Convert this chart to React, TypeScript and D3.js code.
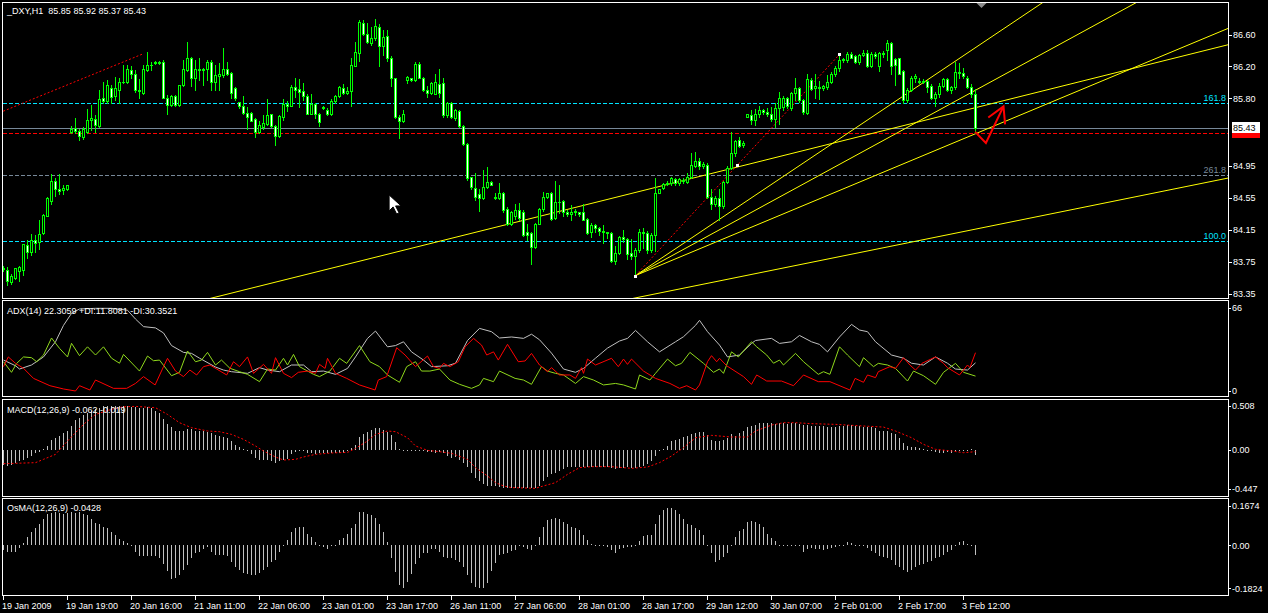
import * as d3 from 'd3';
import React from 'react';

const W = 1268;
const H = 613;
const FONT = "'Liberation Sans', Arial, sans-serif";

// _DXY H1 candles, oldest first
const opens = [
  83.66, 83.65, 83.50, 83.55, 83.64, 83.65, 83.96, 83.88, 84.02, 84.00,
  84.11, 84.32, 84.52, 84.76, 84.67, 84.65, 84.66, 85.38, 85.43, 85.39,
  85.32, 85.38, 85.53, 85.54, 85.45, 85.80, 85.77, 85.93, 85.83, 85.91,
  86.00, 86.01, 86.16, 86.11, 85.91, 85.87, 86.16, 86.22, 86.24, 86.26,
  86.25, 85.81, 85.72, 85.83, 85.72, 85.97, 86.16, 86.31, 86.06, 86.17,
  86.16, 86.17, 86.26, 86.01, 86.08, 86.09, 86.17, 86.12, 85.93, 85.75,
  85.70, 85.62, 85.62, 85.54, 85.38, 85.44, 85.48, 85.60, 85.45, 85.33,
  85.57, 85.73, 85.71, 85.94, 85.92, 85.89, 85.83, 85.61, 85.73, 85.61,
  85.68, 85.66, 85.60, 85.77, 85.83, 85.93, 85.87, 85.89, 86.21, 86.37,
  86.75, 86.61, 86.49, 86.55, 86.70, 86.46, 86.58, 86.31, 86.05, 85.57,
  85.51, 86.03, 86.05, 86.03, 86.23, 86.06, 85.90, 85.87, 85.86, 85.98,
  85.99, 85.59, 85.74, 85.56, 85.64, 85.45, 85.23, 84.81, 84.68, 84.60,
  84.55, 84.69, 84.75, 84.55, 84.55, 84.62, 84.41, 84.23, 84.33, 84.40,
  84.38, 84.13, 84.11, 83.94, 84.23, 84.41, 84.56, 84.62, 84.30, 84.50,
  84.51, 84.37, 84.35, 84.39, 84.37, 84.37, 84.29, 84.12, 84.21, 84.17,
  84.14, 84.12, 84.11, 83.76, 83.86, 84.06, 84.04, 83.86, 83.82, 83.90,
  84.13, 84.11, 83.90, 84.09, 84.62, 84.68, 84.73, 84.74, 84.79, 84.74,
  84.78, 84.75, 84.82, 84.95, 85.01, 84.95, 84.97, 84.57, 84.48, 84.55,
  84.45, 84.75, 84.93, 85.11, 85.28, 85.21, 85.57, 85.59, 85.53, 85.60,
  85.65, 85.63, 85.61, 85.54, 85.68, 85.69, 85.81, 85.68, 85.87, 85.93,
  85.78, 85.62, 86.03, 85.93, 85.94, 85.93, 85.94, 86.00, 86.11, 86.18,
  86.28, 86.28, 86.35, 86.33, 86.25, 86.34, 86.37, 86.21, 86.35, 86.21,
  86.35, 86.40, 86.49, 86.29, 86.30, 86.14, 85.78, 85.91, 86.06, 86.02,
  86.02, 86.02, 85.96, 85.80, 85.86, 85.96, 86.04, 85.90, 85.94, 86.13,
  86.12, 86.06, 85.94, 85.85,
];
const highs = [
  83.70, 83.69, 83.60, 83.68, 83.70, 83.98, 84.02, 84.10, 84.09, 84.27,
  84.35, 84.56, 84.85, 84.80, 84.85, 84.71, 84.72, 85.45, 85.56, 85.42,
  85.44, 85.67, 85.72, 85.59, 85.90, 86.01, 86.03, 85.97, 86.07, 86.06,
  86.22, 86.22, 86.20, 86.15, 86.04, 86.22, 86.38, 86.26, 86.27, 86.27,
  86.28, 85.84, 85.84, 85.84, 85.97, 86.28, 86.50, 86.32, 86.28, 86.30,
  86.18, 86.28, 86.28, 86.22, 86.24, 86.43, 86.26, 86.13, 85.94, 85.76,
  85.83, 85.69, 85.63, 85.55, 85.51, 85.59, 85.79, 85.61, 85.46, 85.59,
  85.79, 85.77, 85.97, 86.06, 86.04, 85.99, 85.86, 85.86, 85.74, 85.62,
  85.70, 85.68, 85.79, 85.84, 85.95, 85.98, 85.94, 86.30, 86.50, 86.78,
  86.78, 86.74, 86.70, 86.79, 86.73, 86.66, 86.66, 86.33, 86.06, 85.59,
  85.65, 86.08, 86.06, 86.26, 86.25, 86.07, 85.95, 86.01, 86.11, 86.17,
  86.06, 85.75, 85.75, 85.67, 85.65, 85.46, 85.24, 84.82, 84.87, 84.67,
  84.90, 84.94, 84.76, 84.61, 84.74, 84.63, 84.44, 84.39, 84.48, 84.49,
  84.40, 84.23, 84.12, 84.24, 84.42, 84.63, 84.62, 84.63, 84.76, 84.71,
  84.53, 84.40, 84.46, 84.41, 84.37, 84.48, 84.30, 84.24, 84.22, 84.19,
  84.21, 84.13, 84.12, 83.95, 84.07, 84.15, 84.05, 84.04, 83.92, 84.16,
  84.17, 84.14, 84.11, 84.80, 84.67, 84.74, 84.76, 84.82, 84.80, 84.80,
  84.80, 84.86, 85.11, 85.13, 85.05, 85.00, 84.99, 84.66, 84.58, 84.66,
  84.76, 84.95, 85.38, 85.28, 85.32, 85.26, 85.60, 85.65, 85.67, 85.70,
  85.67, 85.68, 85.69, 85.74, 85.88, 85.83, 85.82, 85.88, 86.05, 85.94,
  85.79, 86.11, 86.06, 86.11, 86.02, 85.97, 86.09, 86.13, 86.20, 86.36,
  86.31, 86.38, 86.38, 86.34, 86.36, 86.40, 86.40, 86.38, 86.38, 86.38,
  86.39, 86.53, 86.51, 86.30, 86.31, 86.15, 85.93, 86.08, 86.10, 86.05,
  86.04, 86.03, 85.98, 85.88, 85.99, 86.06, 86.05, 85.96, 86.25, 86.24,
  86.18, 86.08, 85.98, 85.92,
];
const lows = [
  83.64, 83.46, 83.47, 83.54, 83.51, 83.59, 83.80, 83.84, 83.88, 83.91,
  84.10, 84.32, 84.48, 84.58, 84.60, 84.60, 84.65, 85.37, 85.37, 85.28,
  85.29, 85.37, 85.40, 85.38, 85.44, 85.74, 85.74, 85.74, 85.78, 85.74,
  85.99, 85.99, 86.05, 85.88, 85.81, 85.86, 86.14, 86.16, 86.23, 86.23,
  85.80, 85.61, 85.70, 85.70, 85.70, 85.96, 86.14, 85.95, 85.90, 86.03,
  85.97, 86.03, 85.90, 85.90, 85.90, 86.07, 86.09, 85.80, 85.78, 85.68,
  85.61, 85.42, 85.51, 85.31, 85.36, 85.42, 85.47, 85.44, 85.21, 85.32,
  85.53, 85.64, 85.70, 85.82, 85.69, 85.78, 85.60, 85.60, 85.55, 85.45,
  85.67, 85.59, 85.59, 85.74, 85.82, 85.86, 85.86, 85.71, 86.20, 86.27,
  86.60, 86.49, 86.47, 86.53, 86.20, 86.34, 86.27, 85.95, 85.56, 85.30,
  85.50, 85.99, 86.02, 86.02, 86.05, 85.89, 85.82, 85.85, 85.85, 85.82,
  85.57, 85.57, 85.55, 85.53, 85.44, 85.21, 84.78, 84.67, 84.53, 84.39,
  84.54, 84.68, 84.71, 84.54, 84.54, 84.38, 84.21, 84.21, 84.29, 84.27,
  84.07, 84.02, 83.73, 83.92, 84.22, 84.39, 84.55, 84.28, 84.29, 84.36,
  84.32, 84.33, 84.27, 84.34, 84.32, 84.28, 84.10, 84.06, 84.13, 84.09,
  83.99, 84.05, 83.75, 83.73, 83.85, 84.00, 83.79, 83.79, 83.58, 83.88,
  83.93, 83.86, 83.87, 83.89, 84.61, 84.67, 84.71, 84.72, 84.72, 84.72,
  84.74, 84.74, 84.80, 84.94, 84.92, 84.93, 84.55, 84.41, 84.45, 84.27,
  84.43, 84.74, 84.92, 85.08, 85.19, 85.19, 85.57, 85.48, 85.47, 85.57,
  85.61, 85.58, 85.52, 85.44, 85.48, 85.66, 85.68, 85.66, 85.78, 85.76,
  85.61, 85.61, 85.90, 85.80, 85.79, 85.91, 85.92, 85.99, 86.08, 86.14,
  86.26, 86.26, 86.30, 86.24, 86.23, 86.33, 86.19, 86.19, 86.31, 86.14,
  86.32, 86.28, 86.10, 85.97, 86.10, 85.74, 85.75, 85.89, 86.01, 85.99,
  85.99, 85.88, 85.79, 85.70, 85.82, 85.94, 85.89, 85.87, 85.92, 86.05,
  86.05, 85.93, 85.82, 85.37,
];
const closes = [
  83.68, 83.51, 83.58, 83.67, 83.69, 83.97, 83.87, 84.03, 83.99, 84.10,
  84.34, 84.55, 84.76, 84.66, 84.64, 84.68, 84.71, 85.42, 85.39, 85.33,
  85.41, 85.53, 85.55, 85.47, 85.79, 85.77, 85.97, 85.82, 85.93, 86.00,
  86.01, 86.17, 86.10, 85.90, 85.89, 86.17, 86.22, 86.22, 86.26, 86.24,
  85.81, 85.72, 85.83, 85.72, 85.97, 86.17, 86.31, 86.06, 86.17, 86.16,
  86.17, 86.26, 86.01, 86.09, 86.11, 86.17, 86.10, 85.87, 85.81, 85.71,
  85.62, 85.57, 85.52, 85.38, 85.46, 85.49, 85.59, 85.45, 85.33, 85.58,
  85.73, 85.71, 85.94, 85.90, 85.88, 85.83, 85.61, 85.73, 85.61, 85.50,
  85.69, 85.60, 85.77, 85.83, 85.94, 85.87, 85.89, 86.22, 86.38, 86.76,
  86.61, 86.50, 86.56, 86.71, 86.46, 86.57, 86.31, 86.06, 85.57, 85.51,
  85.60, 86.07, 86.03, 86.23, 86.06, 85.90, 85.87, 85.99, 86.00, 85.87,
  85.59, 85.74, 85.57, 85.65, 85.45, 85.23, 84.80, 84.69, 84.57, 84.55,
  84.69, 84.75, 84.72, 84.56, 84.61, 84.40, 84.23, 84.38, 84.40, 84.30,
  84.09, 84.09, 83.94, 84.23, 84.41, 84.57, 84.61, 84.29, 84.50, 84.50,
  84.37, 84.35, 84.38, 84.37, 84.35, 84.28, 84.11, 84.21, 84.17, 84.14,
  84.12, 84.11, 83.76, 83.86, 84.06, 84.04, 83.85, 83.83, 83.90, 84.13,
  84.11, 83.90, 84.09, 84.62, 84.67, 84.73, 84.74, 84.80, 84.74, 84.79,
  84.76, 84.82, 84.96, 85.01, 84.95, 84.98, 84.57, 84.48, 84.55, 84.45,
  84.75, 84.93, 85.11, 85.27, 85.20, 85.24, 85.60, 85.53, 85.60, 85.65,
  85.63, 85.61, 85.54, 85.68, 85.81, 85.81, 85.70, 85.87, 85.93, 85.78,
  85.63, 86.04, 85.92, 85.95, 85.93, 85.95, 86.00, 86.11, 86.18, 86.28,
  86.29, 86.36, 86.31, 86.25, 86.34, 86.37, 86.21, 86.36, 86.33, 86.37,
  86.37, 86.49, 86.20, 86.22, 86.11, 85.78, 85.91, 86.06, 86.08, 86.01,
  86.01, 85.94, 85.80, 85.86, 85.96, 86.04, 85.90, 85.94, 86.13, 86.12,
  86.08, 85.94, 85.85, 85.43,
];

// MACD(12,26,9) histogram, one value per bar
const macdMain = [
  -0.17, -0.18, -0.17, -0.15, -0.13, -0.11, -0.09, -0.07, -0.04, -0.02,
  0.01, 0.05, 0.11, 0.14, 0.16, 0.19, 0.22, 0.28, 0.34, 0.37,
  0.40, 0.43, 0.45, 0.47, 0.48, 0.50, 0.50, 0.50, 0.50, 0.50,
  0.50, 0.50, 0.49, 0.49, 0.48, 0.48, 0.49, 0.48, 0.45, 0.42,
  0.36, 0.30, 0.26, 0.22, 0.22, 0.22, 0.24, 0.24, 0.22, 0.22,
  0.22, 0.21, 0.20, 0.17, 0.16, 0.15, 0.14, 0.10, 0.06, 0.03,
  0.01, -0.01, -0.05, -0.09, -0.11, -0.11, -0.11, -0.13, -0.15, -0.13,
  -0.11, -0.10, -0.05, -0.02, 0.00, -0.01, -0.03, -0.04, -0.05, -0.04,
  -0.04, -0.04, -0.03, -0.04, -0.03, -0.03, -0.01, 0.02, 0.06, 0.15,
  0.18, 0.21, 0.23, 0.25, 0.25, 0.23, 0.21, 0.17, 0.09, 0.01,
  0.00, 0.00, 0.00, 0.00, 0.00, 0.00, -0.02, -0.02, -0.03, -0.02,
  -0.04, -0.07, -0.09, -0.08, -0.11, -0.15, -0.20, -0.26, -0.32, -0.36,
  -0.39, -0.41, -0.41, -0.41, -0.42, -0.43, -0.44, -0.44, -0.44, -0.44,
  -0.43, -0.44, -0.44, -0.43, -0.41, -0.36, -0.31, -0.28, -0.26, -0.24,
  -0.22, -0.20, -0.19, -0.19, -0.19, -0.20, -0.20, -0.20, -0.20, -0.20,
  -0.20, -0.20, -0.21, -0.22, -0.21, -0.21, -0.20, -0.21, -0.21, -0.20,
  -0.18, -0.16, -0.13, -0.07, 0.00, 0.01, 0.05, 0.10, 0.12, 0.13,
  0.15, 0.16, 0.18, 0.20, 0.21, 0.21, 0.17, 0.12, 0.10, 0.10,
  0.12, 0.14, 0.18, 0.16, 0.20, 0.22, 0.26, 0.27, 0.29, 0.31,
  0.31, 0.31, 0.31, 0.30, 0.31, 0.31, 0.30, 0.31, 0.31, 0.30,
  0.29, 0.29, 0.28, 0.28, 0.28, 0.28, 0.26, 0.26, 0.26, 0.28,
  0.28, 0.29, 0.29, 0.28, 0.28, 0.26, 0.26, 0.26, 0.25, 0.22,
  0.22, 0.22, 0.20, 0.18, 0.14, 0.08, 0.05, 0.03, 0.03, 0.02,
  0.01, 0.00, 0.00, -0.02, -0.03, -0.03, -0.02, -0.03, -0.01, -0.01,
  -0.01, 0.00, 0.01, -0.06,
];

// MACD signal line: [bar, value] vertices
const macdSignal = [
  [0, -0.157], [8, -0.145], [10, -0.107], [13, -0.05], [16, 0.103], [20, 0.294],
  [23, 0.408], [27, 0.466], [30, 0.496], [33, 0.50], [38, 0.485], [41, 0.408],
  [44, 0.313], [47, 0.256], [51, 0.218], [54, 0.21], [57, 0.179], [60, 0.122],
  [63, 0.046], [65, -0.011], [68, -0.08], [70, -0.115], [73, -0.107], [75, -0.08],
  [78, -0.05], [82, -0.034], [86, -0.027], [88, 0.019], [91, 0.103], [93, 0.179],
  [96, 0.218], [98, 0.21], [101, 0.141], [103, 0.046], [106, -0.004], [109, -0.019],
  [112, -0.038], [116, -0.107], [118, -0.202], [121, -0.298], [123, -0.374], [125, -0.412],
  [127, -0.431], [133, -0.439], [135, -0.412], [138, -0.374], [141, -0.279], [144, -0.202],
  [147, -0.191], [152, -0.191], [157, -0.21], [161, -0.195], [164, -0.145], [167, -0.069],
  [170, 0.027], [173, 0.141], [177, 0.168], [182, 0.149], [186, 0.149], [188, 0.218],
  [192, 0.286], [195, 0.313], [198, 0.313], [202, 0.302], [208, 0.294], [215, 0.275],
  [220, 0.263], [223, 0.218], [227, 0.141], [230, 0.065], [233, 0.008], [237, -0.011],
  [240, -0.031], [243, -0.019],
];

// OsMA(12,26,9), one value per bar
const osma = [
  -0.020, -0.030, -0.030, -0.030, -0.010, 0.010, 0.035, 0.056, 0.073, 0.088,
  0.110, 0.134, 0.138, 0.141, 0.138, 0.134, 0.138, 0.141, 0.138, 0.141,
  0.134, 0.127, 0.113, 0.096, 0.088, 0.078, 0.073, 0.056, 0.042, 0.028,
  0.017, 0.011, 0.002, -0.028, -0.045, -0.045, -0.045, -0.045, -0.045, -0.056,
  -0.078, -0.110, -0.144, -0.138, -0.124, -0.106, -0.085, -0.056, -0.035, -0.028,
  -0.017, -0.008, -0.028, -0.040, -0.042, -0.042, -0.045, -0.071, -0.092, -0.106,
  -0.116, -0.120, -0.127, -0.127, -0.116, -0.106, -0.092, -0.071, -0.064, -0.028,
  -0.003, 0.021, 0.056, 0.073, 0.078, 0.078, 0.049, 0.035, 0.014, -0.003,
  -0.007, -0.014, -0.003, 0.003, 0.021, 0.031, 0.049, 0.071, 0.092, 0.141,
  0.141, 0.134, 0.127, 0.116, 0.092, 0.054, 0.014, -0.056, -0.113, -0.169,
  -0.180, -0.155, -0.120, -0.078, -0.056, -0.035, -0.031, -0.017, -0.017, -0.028,
  -0.049, -0.056, -0.056, -0.064, -0.071, -0.092, -0.127, -0.162, -0.177, -0.180,
  -0.180, -0.160, -0.110, -0.075, -0.042, -0.037, -0.035, -0.025, -0.021, -0.003,
  -0.007, -0.014, -0.021, 0.000, 0.035, 0.078, 0.106, 0.110, 0.116, 0.113,
  0.099, 0.088, 0.078, 0.071, 0.064, 0.045, 0.021, 0.007, 0.003, 0.000,
  -0.003, -0.007, -0.021, -0.035, -0.017, -0.011, -0.007, -0.007, 0.003, 0.017,
  0.040, 0.042, 0.042, 0.092, 0.130, 0.148, 0.158, 0.158, 0.148, 0.134,
  0.113, 0.088, 0.085, 0.071, 0.064, 0.042, 0.000, -0.035, -0.073, -0.064,
  -0.049, -0.035, -0.003, 0.035, 0.059, 0.068, 0.099, 0.103, 0.099, 0.092,
  0.078, 0.049, 0.031, 0.017, 0.003, 0.001, 0.001, 0.001, 0.000, -0.003,
  -0.028, -0.014, -0.011, -0.014, -0.017, -0.021, -0.017, -0.011, -0.007, -0.003,
  0.003, 0.014, 0.011, 0.003, 0.000, -0.003, -0.011, -0.025, -0.035, -0.045,
  -0.049, -0.056, -0.064, -0.082, -0.092, -0.106, -0.113, -0.106, -0.092, -0.082,
  -0.078, -0.071, -0.066, -0.056, -0.049, -0.040, -0.028, -0.021, 0.000, 0.014,
  0.017, 0.007, 0.000, -0.043,
];

// ADX(14) lines: [bar, value] vertices
const adxMain = [
  [0, 24.5], [3, 20], [4, 17.4], [7, 20.6], [10, 27], [13, 39], [15, 52], [17, 61.5],
  [19, 65], [23, 65.5], [27, 65.5], [31, 64], [33, 57], [35, 51], [38, 50], [40, 46],
  [42, 36], [45, 30.6], [47, 29.8], [49, 26], [53, 19], [55, 16.6], [57, 15.3], [61, 14],
  [64, 18.5], [66, 16.6], [69, 15.3], [72, 20.6], [75, 20.6], [77, 15.3], [80, 15.8],
  [83, 13.2], [86, 17.9], [88, 27], [91, 41.7], [93, 47.5], [96, 35], [98, 36], [100, 39],
  [102, 31], [105, 24.5], [107, 19.3], [111, 20], [113, 22], [116, 40], [119, 49.6],
  [122, 47], [124, 42], [127, 42.8], [130, 41.7], [132, 45], [134, 40.6], [137, 30],
  [140, 17.4], [143, 14.8], [145, 17.9], [148, 26], [151, 34], [154, 39.6], [156, 41.7],
  [158, 48], [161, 39], [164, 31], [168, 39], [170, 43], [173, 52], [174, 56], [176, 47],
  [179, 36.4], [181, 27], [184, 28.5], [187, 37.7], [188, 40], [192, 41.7], [194, 37.7],
  [197, 39], [199, 44], [202, 39], [204, 36.9], [206, 31], [209, 42.8], [212, 52.8],
  [214, 48.3], [216, 47], [218, 39], [222, 28.5], [225, 26], [227, 22], [230, 20.6],
  [233, 27], [236, 22], [238, 17.4], [241, 16.6], [243, 22.3],
];
const plusDI = [
  [0, 23.2], [2, 14.8], [3.3, 21.9], [5, 27], [7, 26.4], [8.3, 23.2], [10, 28.5], [12, 42],
  [14, 33.8], [16, 27], [17, 37.8], [19, 28], [21, 35], [23, 28.5], [25, 35], [27, 26],
  [29, 22], [30, 29], [34, 15.8], [36, 27.7], [37.5, 24], [39, 24.5], [42, 12.1], [44, 14.8],
  [46, 31.7], [48, 23.2], [49.5, 24.5], [51, 30.6], [53, 20.6], [54.5, 24.5], [56.6, 18],
  [59, 15.3], [61, 13.2], [64, 7.4], [66, 17.4], [68, 16.6], [70, 25.9], [71, 20.6],
  [72.5, 29], [74, 19.3], [77.5, 13.2], [79, 11.4], [81.6, 15.8], [84, 25.9], [85.8, 21.9],
  [89, 36], [91.6, 23.2], [94, 19.3], [96, 12.7], [99, 6.9], [100.8, 19.3], [103, 23.2],
  [104.5, 15.8], [106.6, 15.8], [109, 17.4], [111.6, 8.7], [114, 5.3], [117, 2.1], [119, 4.8],
  [120, 10], [122.5, 7.4], [124, 15.8], [127.9, 10], [130, 8.7], [132, 5.3], [134.5, 19.3],
  [136, 15.8], [138, 14], [140, 12.7], [143, 6], [145, 11.4], [147.5, 8.7], [150, 4.8],
  [153, 6], [155, 4.8], [158, 1.6], [159, 12.7], [161.6, 8.7], [163, 14], [166, 25.3],
  [168, 20], [169.5, 21.9], [171.6, 30.6], [175, 21.9], [177.5, 14.8], [179, 17.4], [180, 14],
  [182, 31], [183.7, 27], [187, 39], [188.3, 35], [190.8, 28.5], [192.5, 22], [194, 24.5],
  [195, 20.6], [198, 29.8], [200, 23.2], [203.7, 13.2], [205, 15.3], [206.6, 13.2], [209, 35],
  [211, 28.5], [214, 19.3], [215, 26.4], [217.5, 19.3], [218.7, 21.9], [221, 20.6],
  [223, 17.9], [226, 7.9], [227.5, 15.8], [230, 12.1], [233, 5.3], [235, 14.8], [238, 21.9],
  [240, 14.8], [243, 11.8],
];
const minusDI = [
  [0, 19.3], [1.2, 27], [3, 21.9], [5, 18], [7.5, 10], [11.6, 4.2], [15, 1.6], [18, 0],
  [19, 4.2], [21.6, 0.8], [23, 8.7], [27.5, 2.1], [30.8, 2.1], [33, 6], [35, 11.4],
  [37.9, 4.8], [40, 19.3], [41, 25.9], [43, 15.8], [45, 11.4], [46.6, 16.6], [48.3, 12.7],
  [50, 19.3], [51.6, 20.6], [53.3, 17.4], [55.8, 12.7], [57.5, 23.2], [59, 19.3], [61, 27],
  [62.5, 14], [65, 21.1], [67, 14], [68, 26.4], [70, 14], [72, 10.6], [73.7, 14.8],
  [76, 15.8], [78, 14], [79, 21.1], [80.4, 17.9], [81, 25.9], [83, 14], [85.8, 10],
  [89, 4.8], [92.9, 0.8], [93.7, 8.7], [95.8, 11.4], [98.3, 34.3], [100.4, 28.5], [103, 19.3],
  [106, 27.7], [107.5, 19.3], [109, 17.9], [110, 21.9], [111.6, 19.3], [113.7, 23.2],
  [115.4, 35], [117.5, 41.7], [119.5, 36.4], [120.8, 28.5], [122.5, 31], [123.7, 24.5],
  [126, 37], [128.7, 23.2], [130.4, 23.8], [132, 29.8], [134, 20.6], [136, 15.3], [137, 18.5],
  [139, 12.7], [141.6, 12.7], [143, 10], [144.5, 18.5], [145, 14], [146, 25.3], [148, 20.6],
  [152, 25.9], [153.7, 19.3], [155, 25.3], [156, 21.1], [157, 25.3], [160, 15.8], [163, 10],
  [166.6, 6], [169, 2.1], [170.8, 4.2], [173, 0.8], [174, 4.8], [176, 23.2], [177, 28],
  [178.3, 23.2], [179, 25.9], [180.8, 20], [185, 11.4], [187, 5.3], [188.3, 12.7],
  [190.8, 7.9], [194.5, 7.9], [197.5, 4.2], [200, 12.7], [203.7, 7.4], [206.6, 7.4],
  [211.6, 0.8], [212.9, 10], [215, 6.9], [216, 12.7], [218, 10.6], [218.7, 15.3],
  [221.6, 19.3], [223, 17.9], [225, 26.4], [226.6, 20.6], [228, 16.6], [229.6, 21.9],
  [233, 27], [235, 21.9], [236, 18.5], [239, 12.7], [241, 20.6], [241.6, 18.5], [243, 30.35],
];

const timeTickBars = [0, 16, 32, 48, 64, 80, 96, 112, 128, 144, 160, 176, 192, 208, 224, 240];
const timeTickLabels = [
  '19 Jan 2009', '19 Jan 19:00', '20 Jan 16:00', '21 Jan 11:00', '22 Jan 06:00',
  '23 Jan 01:00', '23 Jan 17:00', '26 Jan 11:00', '27 Jan 06:00', '28 Jan 01:00',
  '28 Jan 17:00', '29 Jan 12:00', '30 Jan 07:00', '2 Feb 01:00', '2 Feb 17:00', '3 Feb 12:00',
];
const priceTicks = [86.6, 86.2, 85.8, 84.95, 84.55, 84.15, 83.75, 83.35];

// fibo levels drawn as horizontal dashed lines
const levelNames = ['161.8', '261.8', '100.0'];
const levelPrices = [85.74, 84.84, 84.01];
const levelColors = ['#00e4ff', '#778899', '#00e4ff'];

const askPrice = 85.36;

// trend lines, [bar, price] anchors, extended both ways
const trendLines = [
  [[53, 83.31], [306, 86.47]],
  [[158, 83.30], [306, 84.80]],
];
// gann fan rays from the 28 Jan low
const fanOrigin = [158, 83.58];
const fanTargets = [[240, 86.335], [240, 85.82], [240, 85.294]];
const dottedLines = [
  [[-1, 85.62], [35, 86.36]],
  [[158, 83.58], [209, 86.35]],
];
const anchorPoints = [[158, 83.58], [183.4, 84.96], [209, 86.35]];
const arrowPath = [[242.9, 85.38], [245.6, 85.24], [250, 85.7]];
const arrowHead = [[246.2, 85.56], [250, 85.7], [250.4, 85.475]];
const cursorAt = [96.4, 84.59];

const panels = [
  { top: 2, bottom: 298 },
  { top: 300, bottom: 396 },
  { top: 399, bottom: 496 },
  { top: 498, bottom: 595 },
];

export default function App() {
  const x = d3.scaleLinear().domain([0, 243]).range([3.5, 975.5]);
  const col = (i: number) => Math.floor(x(i));
  const yP = d3.scaleLinear().domain([83.35, 86.6]).range([293.9, 34.5]);
  const yAdx = d3.scaleLinear().domain([0, 66]).range([391, 307.7]);
  const yMacd = d3.scaleLinear().domain([-0.447, 0.508]).range([489, 405.7]);
  const yOsma = d3.scaleLinear().domain([-0.1824, 0.1674]).range([588.3, 505.7]);

  const ray = (p: number[][], from: number) => {
    const k = (p[1][1] - p[0][1]) / (p[1][0] - p[0][0]);
    const b1 = 330;
    return [
      [x(from), yP(p[0][1] + k * (from - p[0][0]))],
      [x(b1), yP(p[0][1] + k * (b1 - p[0][0]))],
    ];
  };

  const adxLine = (s: number[][]) =>
    d3.line<number[]>().x(d => x(d[0])).y(d => yAdx(d[1]))(s) || '';
  const sigLine = d3.line<number[]>().x(d => x(d[0])).y(d => yMacd(d[1]))(macdSignal) || '';

  const hist = (vals: number[], y: any, key: string) => {
    const y0 = Math.round(y(0));
    return vals.map((v, i) => {
      const yv = Math.round(y(v));
      const top = Math.min(y0, yv);
      const h = Math.max(1, Math.abs(yv - y0));
      return <rect key={key + i} x={col(i)} y={top} width={1} height={h} fill="#c0c0c0" />;
    });
  };

  const candles = opens.map((o, i) => {
    const c = closes[i];
    const cx = col(i);
    const hy = Math.round(yP(highs[i]));
    const ly = Math.round(yP(lows[i]));
    const bt = Math.round(yP(Math.max(o, c)));
    const bb = Math.round(yP(Math.min(o, c)));
    const bull = c > o;
    return (
      <g key={'c' + i}>
        <rect x={cx} y={hy} width={1} height={ly - hy + 1} fill="#00ff00" />
        <rect x={cx - 1} y={bt} width={3} height={bb - bt + 1} fill="#00ff00" />
        {bb - bt >= 2 && (
          <rect x={cx} y={bt + 1} width={1} height={bb - bt - 1} fill={bull ? '#000' : '#fff'} />
        )}
      </g>
    );
  });

  const allLines = [
    ...trendLines.map(p => ray(p, -10)),
    ...fanTargets.map(t => ray([fanOrigin, t], fanOrigin[0])),
  ];

  const txt = { fill: '#fff', fontFamily: FONT, fontSize: 9 } as const;
  const lastClose = closes[closes.length - 1];
  const cx0 = x(cursorAt[0]);
  const cy0 = yP(cursorAt[1]);
  const shiftX = x(244.5);

  return (
    <svg width={W} height={H} style={{ position: 'absolute', left: 0, top: 0, display: 'block', background: '#000' }}>
      <defs>
        <clipPath id="mainClip"><rect x={3} y={3} width={1225} height={295} /></clipPath>
        <clipPath id="adxClip"><rect x={3} y={301} width={1225} height={95} /></clipPath>
        <clipPath id="macdClip"><rect x={3} y={400} width={1225} height={96} /></clipPath>
      </defs>
      <rect x={0} y={0} width={W} height={H} fill="#000" />

      <g shapeRendering="crispEdges">
        {levelPrices.map((p, i) => (
          <line key={'lv' + i} x1={3} x2={1228} y1={Math.round(yP(p)) + 0.5} y2={Math.round(yP(p)) + 0.5}
            stroke={levelColors[i]} strokeDasharray="4 2" />
        ))}
        <line x1={3} x2={1228} y1={Math.round(yP(lastClose)) + 0.5} y2={Math.round(yP(lastClose)) + 0.5} stroke="#778899" />
        <line x1={3} x2={1228} y1={Math.round(yP(askPrice)) + 0.5} y2={Math.round(yP(askPrice)) + 0.5} stroke="#ff0000" strokeDasharray="4 2" />
      </g>

      <g clipPath="url(#mainClip)">
        {allLines.map((r, i) => (
          <line key={'tl' + i} x1={r[0][0]} y1={r[0][1]} x2={r[1][0]} y2={r[1][1]} stroke="#ffff00" strokeWidth={1} />
        ))}
        {dottedLines.map((p, i) => (
          <line key={'dl' + i} x1={x(p[0][0])} y1={yP(p[0][1])} x2={x(p[1][0])} y2={yP(p[1][1])}
            stroke="#ff0000" strokeDasharray="2 2" />
        ))}
        <g shapeRendering="crispEdges">{candles}</g>
        {anchorPoints.map((p, i) => (
          <rect key={'ap' + i} x={col(p[0]) - 1} y={Math.round(yP(p[1])) - 1} width={3} height={3} fill="#fff" shapeRendering="crispEdges" />
        ))}
        <polyline points={arrowPath.map(p => `${x(p[0])},${yP(p[1])}`).join(' ')} fill="none" stroke="#ff0000" strokeWidth={2} />
        <polyline points={arrowHead.map(p => `${x(p[0])},${yP(p[1])}`).join(' ')} fill="none" stroke="#ff0000" strokeWidth={2} />
        <path d={`M${cx0},${cy0} l0,16 l4,-4 l3.5,7 l2.5,-1 l-3.5,-7 l5.5,0 Z`} fill="#fff" stroke="#000" strokeWidth={1} />
      </g>
      <path d={`M${shiftX - 5},3 L${shiftX + 5},3 L${shiftX},8 Z`} fill="#8a8a8a" />

      {/* ADX */}
      <g clipPath="url(#adxClip)" fill="none" strokeWidth={1}>
        <path d={adxLine(adxMain)} stroke="#c0c0c0" />
        <path d={adxLine(plusDI)} stroke="#8fd81c" />
        <path d={adxLine(minusDI)} stroke="#ff0000" />
      </g>

      {/* MACD */}
      <g shapeRendering="crispEdges">{hist(macdMain, yMacd, 'm')}</g>
      <g clipPath="url(#macdClip)">
        <path d={sigLine} fill="none" stroke="#ff0000" strokeDasharray="2 2" />
      </g>

      {/* OsMA */}
      <g shapeRendering="crispEdges">{hist(osma, yOsma, 'o')}</g>

      {/* panel frames */}
      <g shapeRendering="crispEdges" fill="none" stroke="#fff">
        {panels.map((p, i) => (
          <rect key={'pf' + i} x={2.5} y={p.top + 0.5} width={1226} height={p.bottom - p.top} />
        ))}
      </g>

      {/* right scale, main */}
      <g shapeRendering="crispEdges">
        {priceTicks.map((p, i) => (
          <line key={'pt' + i} x1={1229} x2={1232} y1={Math.round(yP(p)) + 0.5} y2={Math.round(yP(p)) + 0.5} stroke="#fff" />
        ))}
      </g>
      {priceTicks.map((p, i) => (
        <text key={'pl' + i} x={1233} y={yP(p) + 3.3} {...txt}>{p.toFixed(2)}</text>
      ))}
      <rect x={1232} y={Math.round(yP(askPrice)) - 5} width={28} height={10} fill="#ff0000" shapeRendering="crispEdges" />
      <rect x={1232} y={Math.round(yP(lastClose)) - 6} width={28} height={11} fill="#fff" shapeRendering="crispEdges" />
      <text x={1233} y={yP(lastClose) + 3.3} {...txt} fill="#000">{lastClose.toFixed(2)}</text>

      {levelNames.map((n, i) => (
        <text key={'ln' + i} x={1226} y={Math.round(yP(levelPrices[i])) - 2} textAnchor="end" {...txt} fill={levelColors[i]}>{n}</text>
      ))}

      {/* right scales, indicators */}
      {[
        { v: 66, y: yAdx, t: '66' }, { v: 0, y: yAdx, t: '0' },
        { v: 0.508, y: yMacd, t: '0.508' }, { v: 0, y: yMacd, t: '0.00' }, { v: -0.447, y: yMacd, t: '-0.447' },
        { v: 0.1674, y: yOsma, t: '0.1674' }, { v: 0, y: yOsma, t: '0.00' }, { v: -0.1824, y: yOsma, t: '-0.1824' },
      ].map((d, i) => (
        <g key={'il' + i}>
          <line x1={1229} x2={1231} y1={Math.round(d.y(d.v)) + 0.5} y2={Math.round(d.y(d.v)) + 0.5} stroke="#fff" shapeRendering="crispEdges" />
          <text x={1232} y={d.y(d.v) + 3.3} {...txt}>{d.t}</text>
        </g>
      ))}

      {/* time axis */}
      {timeTickBars.map((b, i) => (
        <g key={'tt' + i}>
          <line x1={col(b) + 0.5} x2={col(b) + 0.5} y1={596} y2={600} stroke="#fff" shapeRendering="crispEdges" />
          <text x={col(b) - 1} y={608.5} {...txt}>{timeTickLabels[i]}</text>
        </g>
      ))}

      {/* titles */}
      <text x={7} y={13.5} {...txt} style={{ whiteSpace: 'pre' }}>{'_DXY,H1  85.85 85.92 85.37 85.43'}</text>
      <text x={7} y={313.5} {...txt}>ADX(14) 22.3059 +DI:11.8081 -DI:30.3521</text>
      <text x={7} y={412.7} {...txt}>MACD(12,26,9) -0.062 -0.019</text>
      <text x={7} y={511} {...txt}>OsMA(12,26,9) -0.0428</text>
    </svg>
  );
}
